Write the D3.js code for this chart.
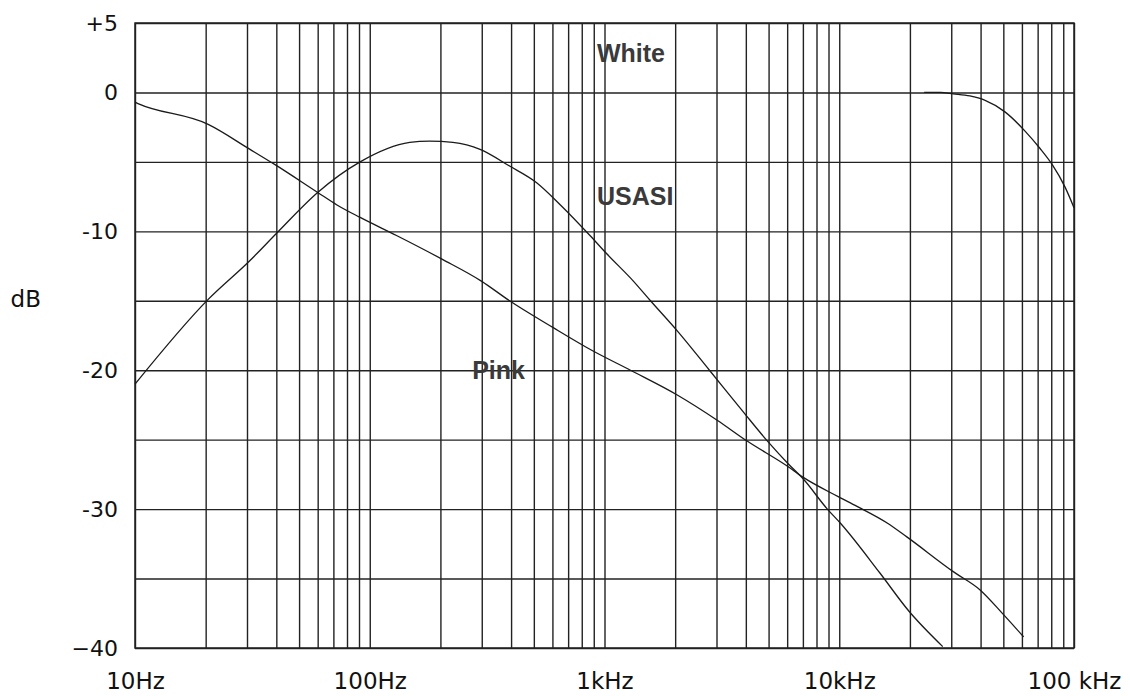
<!DOCTYPE html>
<html>
<head>
<meta charset="utf-8">
<script src="https://cdn.jsdelivr.net/npm/d3@7"></script>
<style>
  html, body { margin: 0; padding: 0; background: #fff; }
  svg { display: block; font-family: "DejaVu Sans", Arial, Helvetica, sans-serif; }
  .grid line, .grid path { stroke: #222; stroke-width: 1.4; }
  .tick-label { fill: #111; }
  .curve { fill: none; stroke: #1a1a1a; stroke-width: 1.3; }
  .name { fill: #3a3a3a; font-weight: bold; font-size: 25px; font-family: "Liberation Sans", Arial, sans-serif; }
</style>
</head>
<body>
<svg id="chart" width="1130" height="696"></svg>
<script>
// frequency axis (Hz) and level axis (dB)
const xDomain = [10, 100000];
const yDomain = [-40, 5];
const xTickValues = [10, 100, 1000, 10000, 100000];
const xTickLabels = ['10Hz', '100Hz', '1kHz', '10kHz', '100 kHz'];
const yTickValues = [5, 0, -10, -20, -30, -40];
const yTickLabels = ['+5', '0', '-10', '-20', '-30', '\u221240'];

// pink noise
const pinkFreq = [10, 10.3, 20.5, 30.9, 39.5, 60, 72.5, 91, 130, 203, 300, 394, 600, 890, 1290, 2050, 3020, 4050, 6000, 7000, 9900, 11900, 16000, 19400, 30600, 39700, 50100, 61000];
const pinkDb = [-0.7, -0.8, -2.3, -4.1, -5.2, -7.2, -8.1, -9.0, -10.3, -12.0, -13.6, -15.0, -16.9, -18.6, -20.0, -21.8, -23.6, -25.1, -26.9, -27.7, -29.1, -29.8, -31.0, -32.0, -34.5, -35.8, -37.6, -39.2];

// USASI noise
const usasiFreq = [10, 20.5, 30.9, 40.3, 60, 91, 148, 180, 226, 295, 394, 514, 649, 867, 1020, 1330, 1570, 2050, 2800, 3900, 5000, 6030, 7000, 8900, 10100, 14900, 19700, 27600];
const usasiDb = [-21.0, -14.9, -12.1, -10.1, -7.2, -5.0, -3.6, -3.5, -3.6, -4.1, -5.3, -6.5, -8.1, -10.3, -11.6, -13.6, -15.0, -17.2, -20.0, -23.0, -25.2, -26.7, -27.8, -30.0, -31.0, -34.6, -37.3, -39.9];

// white noise (only the roll-off part is drawn off the 0 dB line)
const whiteFreq = [23000, 27000, 30600, 36000, 41600, 50800, 62000, 71400, 80800, 91500, 100000];
const whiteDb = [0, 0, -0.1, -0.25, -0.55, -1.4, -2.8, -4.0, -5.2, -6.8, -8.3];

// curve names, placed at a frequency / level
const nameText = ['White', 'USASI', 'Pink'];
const nameFreq = [929, 929, 273];
const nameDb = [2.2, -8.1, -20.6];

const margin = { top: 23, left: 135, right: 56, bottom: 48 };
const svg = d3.select('#chart');
const width = +svg.attr('width') - margin.left - margin.right;
const height = +svg.attr('height') - margin.top - margin.bottom;

const g = svg.append('g')
    .attr('transform', `translate(${margin.left}, ${margin.top})`);

const x = d3.scaleLog().domain(xDomain).range([0, width]);
const y = d3.scaleLinear().domain(yDomain).range([height, 0]);

// vertical grid: 1..9 per decade
let gridFreqs = [];
for (let d = 10; d < 100000; d *= 10) {
    for (let k = 1; k < 10; k++) gridFreqs.push(d * k);
}
gridFreqs.push(100000);

g.append('g')
    .classed('grid', true)
    .attr('transform', `translate(0, ${height})`)
    .call(d3.axisBottom(x).tickValues(gridFreqs).tickSize(-height).tickFormat(''))
    .call(s => s.select('.domain').remove());

// horizontal grid every 5 dB
g.append('g')
    .classed('grid', true)
    .call(d3.axisLeft(y).tickValues(d3.range(-40, 6, 5)).tickSize(-width).tickFormat(''))
    .call(s => s.select('.domain').remove());

// frame
g.append('rect')
    .attr('width', width)
    .attr('height', height)
    .attr('fill', 'none')
    .attr('stroke', '#222')
    .attr('stroke-width', 1.5);

// x labels
const xAxis = g.append('g')
    .attr('transform', `translate(0, ${height})`)
    .call(d3.axisBottom(x).tickValues(xTickValues).tickSize(0)
        .tickFormat((d, i) => xTickLabels[i]));
xAxis.select('.domain').remove();
xAxis.selectAll('text')
    .classed('tick-label', true)
    .attr('y', 41)
    .attr('dy', null)
    .style('font-size', '23px')
    .style('font-family', '"DejaVu Sans", Arial, sans-serif');

// y labels
const yAxis = g.append('g')
    .call(d3.axisLeft(y).tickValues(yTickValues).tickSize(0).tickPadding(17)
        .tickFormat((d, i) => yTickLabels[i]));
yAxis.select('.domain').remove();
yAxis.selectAll('text')
    .classed('tick-label', true)
    .style('font-size', '22px')
    .style('font-family', '"DejaVu Sans", Arial, sans-serif');

svg.append('text')
    .attr('x', 41)
    .attr('y', 307)
    .attr('text-anchor', 'end')
    .style('font-size', '23px')
    .attr('fill', '#111')
    .text('dB');

// curves
const line = d3.line()
    .x(d => x(d[0]))
    .y(d => y(d[1]))
    .curve(d3.curveMonotoneX);

[[pinkFreq, pinkDb], [usasiFreq, usasiDb], [whiteFreq, whiteDb]].forEach(s => {
    g.append('path')
        .classed('curve', true)
        .attr('d', line(d3.zip(s[0], s[1])));
});

// names
g.selectAll('.name')
    .data(nameText).enter()
    .append('text')
    .classed('name', true)
    .attr('x', (d, i) => x(nameFreq[i]))
    .attr('y', (d, i) => y(nameDb[i]))
    .text(d => d);
</script>
</body>
</html>
